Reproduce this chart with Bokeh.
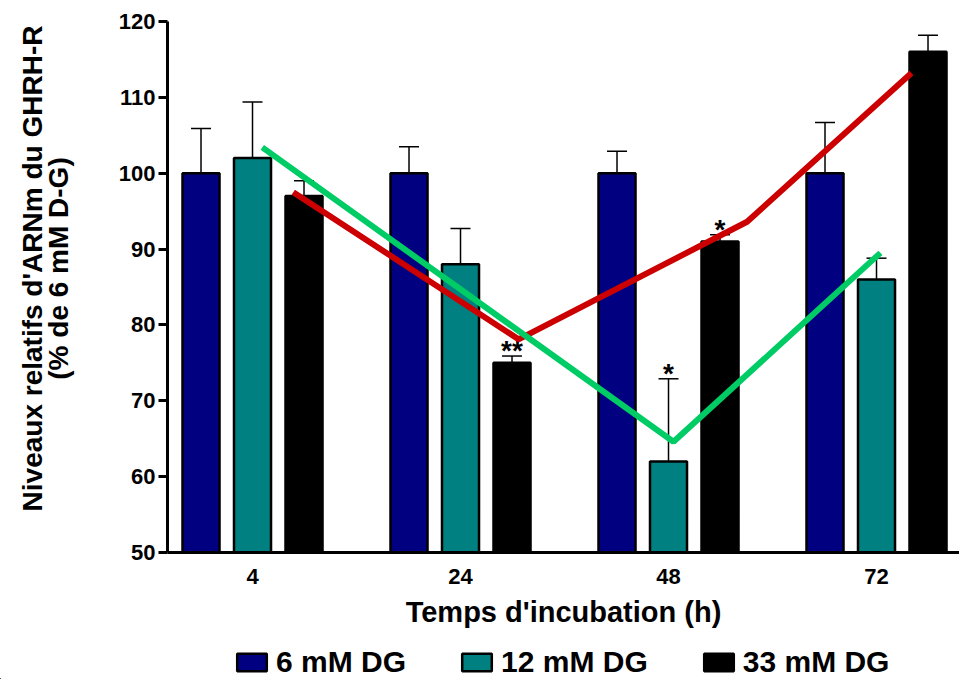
import numpy as np
from bokeh.plotting import figure
from bokeh.layouts import column, row
from bokeh.models import (Range1d, FixedTicker, Whisker, TeeHead, ColumnDataSource,
                          Label, Legend, LegendItem)
from bokeh.core.properties import value
from bokeh.embed import file_html
from bokeh.resources import INLINE

# ---------------- data ----------------
hours = ["4", "24", "48", "72"]
series_names = ["6 mM DG", "12 mM DG", "33 mM DG"]
dg6 = [100, 100, 100, 100]
dg6_err = [5.9, 3.5, 2.9, 6.7]
dg12 = [102, 88, 62, 86]
dg12_err = [7.4, 4.7, 10.9, 2.8]
dg33 = [97, 75, 91, 116]
dg33_err = [2.0, 0.9, 0.9, 2.2]

# significance marks: (label, time index, series index)
star_labels = ["**", "*", "*"]
star_group = [1, 2, 2]
star_series = [2, 1, 2]

# hand-drawn trend lines (x in time-index units, y in %)
green_x = [0.047, 2.024, 3.019]
green_y = [103.4, 64.6, 89.5]
red_x = [0.196, 1.279, 2.378, 3.168]
red_y = [97.5, 78.1, 93.6, 113.2]

x_title = "Temps d'incubation (h)"
y_title_1 = "Niveaux relatifs d'ARNm du GHRH-R"
y_title_2 = "(% de 6 mM D-G)"

# ---------------- style ----------------
FONT = "Liberation Sans"
colors = ["#000080", "#008080", "#000000"]
offsets = [-0.2476, 0.0, 0.2476]
bar_w = 0.178

# ---- main plot ----
p = figure(width=859, height=640, output_backend="svg", toolbar_location=None,
           x_range=Range1d(-0.4087, 3.399), y_range=Range1d(50, 120),
           min_border_left=67, min_border_right=0, min_border_top=21,
           min_border_bottom=88)
p.xgrid.visible = False
p.ygrid.visible = False
p.outline_line_color = None

idx = np.arange(len(hours))
vals = [dg6, dg12, dg33]
errs = [dg6_err, dg12_err, dg33_err]
for k in range(3):
    src = ColumnDataSource(dict(
        x=idx + offsets[k],
        value=vals[k],
        upper=np.array(vals[k]) + np.array(errs[k]),
    ))
    w = Whisker(source=src, base="x", upper="upper", lower="value",
                line_width=1.5, line_color="black", level="underlay",
                upper_head=TeeHead(size=20, line_width=1.5, line_color="black"),
                lower_head=None)
    p.add_layout(w)
    p.vbar(x="x", top="value", bottom=50, width=bar_w, source=src,
           fill_color=colors[k], line_color="black", line_width=2.5)

# stars
sx = [star_group[i] + offsets[star_series[i]] for i in range(len(star_labels))]
sy = [vals[star_series[i]][star_group[i]] + errs[star_series[i]][star_group[i]] + 0.7
      for i in range(len(star_labels))]
p.text(x=sx, y=sy, text=star_labels, text_align="center", text_baseline="alphabetic",
       text_font=value(FONT), text_font_style="bold", text_font_size="28px",
       text_color="black")

# trend lines
p.line(red_x, red_y, line_color="#CC0000", line_width=6)
p.line(green_x, green_y, line_color="#00CC66", line_width=6)

# axes
p.yaxis.ticker = FixedTicker(ticks=[50, 60, 70, 80, 90, 100, 110, 120])
p.yaxis.axis_line_width = 3
p.yaxis.major_tick_line_width = 3
p.yaxis.major_tick_out = 9
p.yaxis.major_tick_in = 0
p.yaxis.minor_tick_line_color = None
p.yaxis.major_label_standoff = 3
p.yaxis.major_label_text_font = FONT
p.yaxis.major_label_text_font_style = "bold"
p.yaxis.major_label_text_font_size = "22px"
p.yaxis.major_label_text_color = "black"

p.xaxis.ticker = FixedTicker(ticks=list(idx))
p.xaxis.major_label_overrides = {int(i): h for i, h in zip(idx, hours)}
p.xaxis.axis_line_width = 3
p.xaxis.major_tick_line_color = None
p.xaxis.major_tick_out = 0
p.xaxis.major_tick_in = 0
p.xaxis.minor_tick_line_color = None
p.xaxis.major_label_standoff = 16
p.xaxis.major_label_text_font = FONT
p.xaxis.major_label_text_font_style = "bold"
p.xaxis.major_label_text_font_size = "22px"
p.xaxis.major_label_text_color = "black"
p.xaxis.axis_label = x_title
p.xaxis.axis_label_standoff = 9
p.xaxis.axis_label_text_font = FONT
p.xaxis.axis_label_text_font_style = "bold"
p.xaxis.axis_label_text_font_size = "29px"
p.xaxis.axis_label_text_color = "black"

# ---- y title panel (its frame is aligned with the main frame) ----
yt = figure(width=100, height=640, output_backend="svg", toolbar_location=None,
            x_axis_type=None, y_axis_type=None, x_range=Range1d(0, 1),
            y_range=Range1d(0, 1), min_border=0)
yt.grid.visible = False
yt.outline_line_color = None
for txt, bx in [(y_title_1, 32), (y_title_2, 58)]:
    yt.add_layout(Label(x=bx, y=284, x_units="screen", y_units="screen", text=txt,
                        angle=np.pi / 2, text_align="center", text_baseline="alphabetic",
                        text_font=FONT, text_font_style="bold", text_font_size="28px",
                        text_color="black"))

# ---- legend panel ----
lg = figure(width=959, height=39, output_backend="svg", toolbar_location=None,
            x_axis_type=None, y_axis_type=None, x_range=Range1d(0, 1),
            y_range=Range1d(0, 1), min_border=0)
lg.grid.visible = False
lg.outline_line_color = None
# legend proxies (a single point outside the panel's range, never visible)
proxy = ColumnDataSource(dict(x=[-10.0], top=[-10.0]))
leg_renderers = [lg.vbar(x="x", top="top", bottom=-11.0, width=0.1, source=proxy,
                         fill_color=colors[k], line_color="black", line_width=2.5)
                 for k in range(3)]
legend = Legend(items=[LegendItem(label=series_names[k], renderers=[leg_renderers[k]])
                       for k in range(3)],
                orientation="horizontal", location=(233, 0),
                glyph_width=37, glyph_height=22, label_standoff=6, spacing=52,
                padding=0, margin=0, border_line_color=None, background_fill_alpha=0,
                label_text_font=FONT, label_text_font_style="bold",
                label_text_font_size="30px", label_text_color="black")
lg.add_layout(legend)

layout = column(row(yt, p), lg)
open("out.html", "w").write(file_html(layout, INLINE))
